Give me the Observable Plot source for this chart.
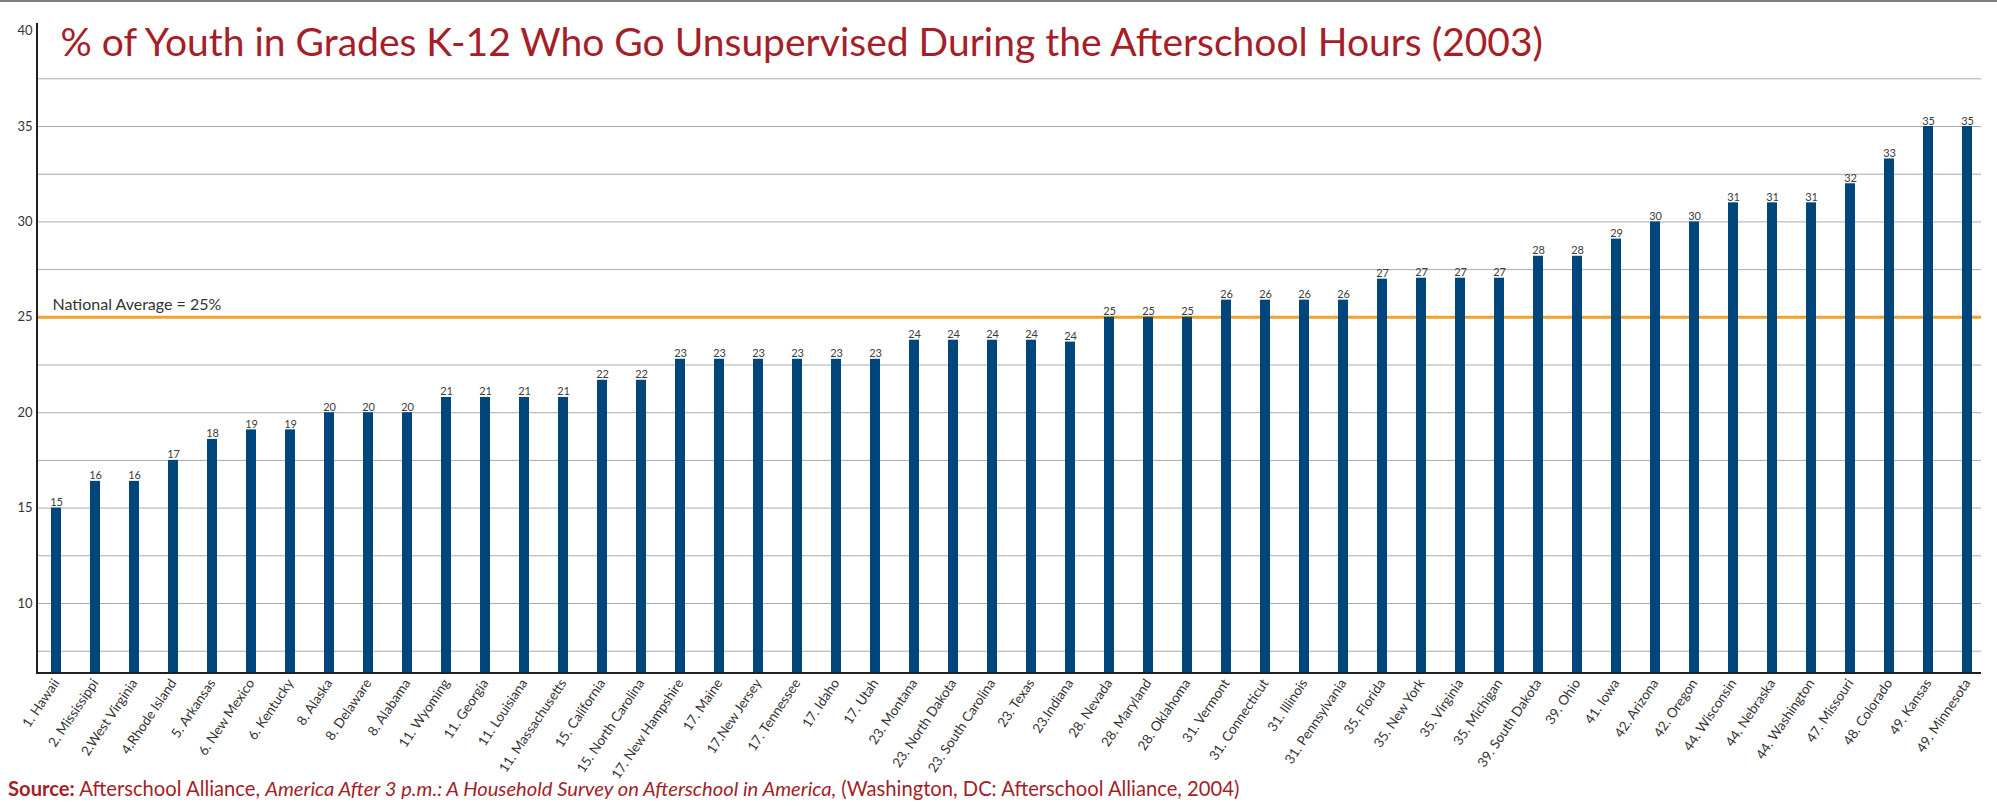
<!DOCTYPE html>
<html>
<head>
<meta charset="utf-8">
<script src="https://cdn.jsdelivr.net/npm/d3@7"></script>
<script src="https://cdn.jsdelivr.net/npm/@observablehq/plot@0.6"></script>
<style>
html, body { margin: 0; padding: 0; background: #fff; }
body { width: 1997px; height: 807px; position: relative; overflow: hidden; font-family: Lato, sans-serif; }
#chart { position: absolute; left: 0; top: 0; }
#topline { position: absolute; left: 0; top: 0; width: 1997px; height: 2px; background: #7d7d7d; }
#source { position: absolute; left: 8px; top: 776px; font-size: 20.2px; line-height: 24px; color: #a51e28; white-space: nowrap; }
</style>
</head>
<body>
<div id="chart"></div>
<div id="topline"></div>
<div id="source"><b>Source:</b> Afterschool Alliance, <i>America After 3 p.m.: A Household Survey on Afterschool in America,</i> (Washington, DC: Afterschool Alliance, 2004)</div>
<script>
const states = [
  "1. Hawaii", "2. Mississippi", "2.West Virginia", "4.Rhode Island", "5. Arkansas",
  "6. New Mexico", "6. Kentucky", "8. Alaska", "8. Delaware", "8. Alabama",
  "11. Wyoming", "11. Georgia", "11. Louisiana", "11. Massachusetts", "15. California",
  "15. North Carolina", "17. New Hampshire", "17. Maine", "17.New Jersey", "17. Tennessee",
  "17. Idaho", "17. Utah", "23. Montana", "23. North Dakota", "23. South Carolina",
  "23. Texas", "23.Indiana", "28. Nevada", "28. Maryland", "28. Oklahoma",
  "31. Vermont", "31. Connecticut", "31. Illinois", "31. Pennsylvania", "35. Florida",
  "35. New York", "35. Virginia", "35. Michigan", "39. South Dakota", "39. Ohio",
  "41. Iowa", "42. Arizona", "42. Oregon", "44. Wisconsin", "44. Nebraska",
  "44. Washington", "47. Missouri", "48. Colorado", "49. Kansas", "49. Minnesota"
];
// bar heights as drawn (percent)
const barHeights = [
  15, 16.4, 16.4, 17.5, 18.6,
  19.1, 19.1, 20, 20, 20,
  20.8, 20.8, 20.8, 20.8, 21.7,
  21.7, 22.8, 22.8, 22.8, 22.8,
  22.8, 22.8, 23.8, 23.8, 23.8,
  23.8, 23.7, 25, 25, 25,
  25.9, 25.9, 25.9, 25.9, 27,
  27.05, 27.05, 27.05, 28.2, 28.2,
  29.1, 30, 30, 31, 31,
  31, 32, 33.3, 35, 35
];
// printed value labels
const printedValues = [
  15, 16, 16, 17, 18,
  19, 19, 20, 20, 20,
  21, 21, 21, 21, 22,
  22, 23, 23, 23, 23,
  23, 23, 24, 24, 24,
  24, 24, 25, 25, 25,
  26, 26, 26, 26, 27,
  27, 27, 27, 28, 28,
  29, 30, 30, 31, 31,
  31, 32, 33, 35, 35
];
const yTickValues = [10, 15, 20, 25, 30, 35, 40];
const gridValues = [7.5, 10, 12.5, 15, 17.5, 20, 22.5, 25, 27.5, 30, 32.5, 35, 37.5];
const nationalAverage = 25;
const titleText = "% of Youth in Grades K-12 Who Go Unsupervised During the Afterschool Hours (2003)";
const noteText = "National Average = 25%";

const data = states.map((s, i) => ({state: s, value: barHeights[i], label: printedValues[i]}));
const yDomain = [6.33, 40.4];

const axisLines = (index, scales, values, dims) => {
  const x0 = dims.marginLeft;
  const x1 = dims.width - dims.marginRight;
  const y0 = dims.marginTop;
  const y1 = dims.height - dims.marginBottom;
  const g = d3.create("svg:g");
  g.append("path")
    .attr("d", `M${x0},${y0}V${y1}H${x1}`)
    .attr("fill", "none")
    .attr("stroke", "#231f20")
    .attr("stroke-width", 2);
  return g.node();
};

const chart = Plot.plot({
  width: 1997,
  height: 772,
  marginLeft: 37,
  marginRight: 16,
  marginTop: 23,
  marginBottom: 99,
  style: {fontFamily: "Lato, sans-serif", background: "transparent", overflow: "visible", color: "#333"},
  x: {domain: states, paddingInner: 0.745, paddingOuter: 0.2, align: 0.6, label: null},
  y: {domain: yDomain, label: null},
  marks: [
    Plot.gridY(gridValues, {stroke: "#ababab", strokeOpacity: 1, strokeWidth: 1}),
    Plot.ruleY([nationalAverage], {stroke: "#f2a22c", strokeWidth: 3}),
    Plot.barY(data, {x: "state", y1: yDomain[0], y2: "value", fill: "#01467a"}),
    Plot.text(data, {x: "state", y: "value", text: "label", dy: -2, lineAnchor: "bottom", fontSize: 11, fill: "#3b3b3b"}),
    Plot.axisY(yTickValues, {tickSize: 0, tickPadding: 5, fontSize: 13, fill: "#333", label: null}),
    Plot.axisX({tickSize: 0, tickPadding: 7, tickRotate: -56, fontSize: 13.5, fill: "#333", label: null}),
    Plot.text([noteText], {y: nationalAverage, frameAnchor: "left", dx: 15, dy: -7, lineAnchor: "bottom", textAnchor: "start", fontSize: 16, fill: "#333"}),
    Plot.text([titleText], {frameAnchor: "top-left", dx: 23, dy: 32, lineAnchor: "bottom", textAnchor: "start", fontSize: 39, fill: "#a51e28"}),
    axisLines
  ]
});
document.getElementById("chart").appendChild(chart);
</script>
</body>
</html>
